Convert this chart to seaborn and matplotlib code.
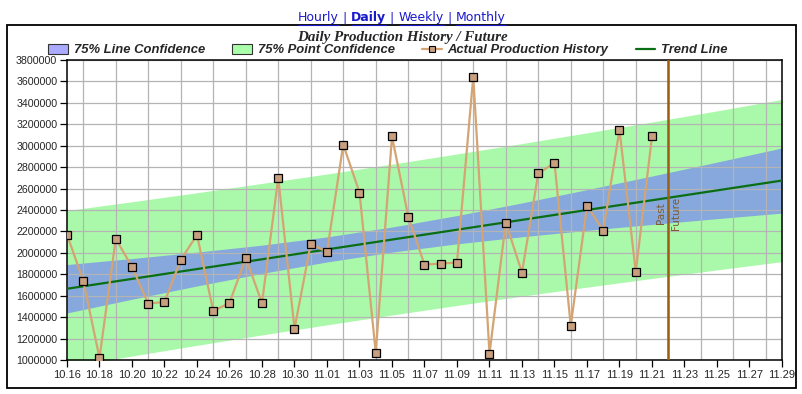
import numpy as np
import pandas as pd
import matplotlib
matplotlib.use("Agg")
import matplotlib.pyplot as plt
import matplotlib.transforms as mtransforms
from matplotlib.patches import Patch, Rectangle
from matplotlib.lines import Line2D
import seaborn as sns

# ---- data ----
dates = [d.strftime("%m.%d") for d in pd.date_range("2000-10-16", "2000-11-29")]
history = [2170000, 1740000, 1020000, 2130000, 1870000, 1526000, 1542000, 1934000,
           2168000, 1458000, 1532000, 1953000, 1532000, 2700000, 1292000, 2084000,
           2009000, 3011000, 2563000, 1068000, 3086000, 2339000, 1890000, 1900000,
           1909000, 3645000, 1059000, 2283000, 1816000, 2741000, 2840000, 1320000,
           2439000, 2208000, 3149000, 1822000, 3086000]

# band / trend samples every 4 days (day index 0, 4, ..., 44)
band_days = [0, 4, 8, 12, 16, 20, 24, 28, 32, 36, 40, 44]
trend = [1665000, 1757000, 1849000, 1940000, 2032000, 2124000,
         2216000, 2308000, 2400000, 2491000, 2583000, 2675000]
line_conf_hi = [1891000, 1947000, 2007000, 2072000, 2149000, 2241000,
                2348000, 2466000, 2590000, 2717000, 2847000, 2979000]
line_conf_lo = [1439000, 1567000, 1691000, 1808000, 1915000, 2007000,
                2084000, 2150000, 2210000, 2265000, 2319000, 2371000]
point_conf_hi = [2395000, 2477000, 2561000, 2648000, 2736000, 2828000,
                 2923000, 3020000, 3120000, 3221000, 3325000, 3432000]
point_conf_lo = [935000, 1037000, 1137000, 1234000, 1328000, 1420000,
                 1509000, 1596000, 1680000, 1761000, 1841000, 1918000]
split_day = "11.22"

hist_df = pd.DataFrame({"day": np.arange(len(history)), "value": history})
band_df = pd.DataFrame({"day": band_days, "trend": trend})

sns.set_theme(style="white")
plt.rcParams["font.family"] = ["Liberation Sans", "DejaVu Sans"]

fig = plt.figure(figsize=(8.03, 3.94), dpi=100)
ax = fig.add_axes([67 / 803, 34 / 394, 715 / 803, 300 / 394])

green_fill = "#aaf9aa"
blue_fill = "#86a8dc"
ax.fill_between(band_days, point_conf_lo, point_conf_hi, color=green_fill, lw=0, zorder=1)
ax.fill_between(band_days, line_conf_lo, line_conf_hi, color=blue_fill, lw=0, zorder=1.1)

sns.lineplot(data=band_df, x="day", y="trend", color="#0a6e14", lw=1.6, ax=ax, zorder=3)
sns.lineplot(data=hist_df, x="day", y="value", color="#d4a473", lw=1.6, marker="s",
             markersize=5.2, markerfacecolor="#c8a080", markeredgecolor="black",
             markeredgewidth=0.9, ax=ax, zorder=4)

split_x = dates.index(split_day)
ax.axvline(split_x, color="#9a5f10", lw=1.8, zorder=5)
trans = mtransforms.blended_transform_factory(ax.transData, ax.transAxes)
ax.text(split_x - 0.15, 0.49, "Past", rotation=90, ha="right", va="center",
        color="#7a5a30", fontsize=7.5, transform=trans, family="DejaVu Sans", zorder=6)
ax.text(split_x + 0.15, 0.49, "Future", rotation=90, ha="left", va="center",
        color="#7a5a30", fontsize=7.5, transform=trans, family="DejaVu Sans", zorder=6)

ax.set_xlim(0, len(dates) - 1)
ax.set_ylim(1000000, 3800000)
ax.set_xticks(np.arange(0, len(dates), 2))
ax.set_xticklabels(dates[::2], fontsize=8)
ax.set_xticks(np.arange(len(dates)), minor=True)
yt = np.arange(1000000, 3800001, 200000)
ax.set_yticks(yt)
ax.set_yticklabels([str(v) for v in yt], fontsize=7.7)
ax.tick_params(axis="both", which="major", length=5, width=0.9, color="black",
               direction="out", pad=2, bottom=True, left=True)
ax.tick_params(axis="x", which="minor", length=0)
ax.set_axisbelow("line")
ax.grid(True, which="major", axis="y", color="#b4b4b4", lw=0.9)
ax.grid(True, which="minor", axis="x", color="#b4b4b4", lw=0.9)
ax.set_xlabel("")
ax.set_ylabel("")
for sp in ax.spines.values():
    sp.set_color("black")
    sp.set_linewidth(1.1)
    sp.set_visible(True)

# outer frame
fig.patches.append(Rectangle((7 / 803, 6 / 394), 789 / 803, 363 / 394, transform=fig.transFigure,
                             fill=False, ec="black", lw=1.3))

fig.text(402 / 803, 1 - 37 / 394, "Daily Production History / Future", ha="center", va="center",
         family="Liberation Serif", fontweight="bold", fontstyle="italic", fontsize=10.8)

handles = [Patch(facecolor="#aaaaff", edgecolor="#333333", lw=0.8),
           Patch(facecolor="#aaffaa", edgecolor="#333333", lw=0.8),
           Line2D([], [], color="#d4a473", lw=1.6, marker="s", markersize=5,
                  markerfacecolor="#c8a080", markeredgecolor="black", markeredgewidth=0.8),
           Line2D([], [], color="#0a6e14", lw=1.6)]
labels = ["75% Line Confidence", "75% Point Confidence", "Actual Production History", "Trend Line"]
fig.legend(handles, labels, loc="center", bbox_to_anchor=(388 / 803, 1 - 50 / 394), ncol=4,
           frameon=False, handlelength=1.5, handleheight=0.8, handletextpad=0.45,
           columnspacing=2.1, borderaxespad=0,
           prop={"family": "Liberation Sans", "weight": "bold", "style": "italic", "size": 9.4})

# link bar with underlines
pieces = [("Hourly", "normal", True), (" | ", "normal", False), ("Daily", "bold", True),
          (" | ", "normal", False), ("Weekly", "normal", True), (" | ", "normal", False),
          ("Monthly", "normal", True)]
fig.canvas.draw()
renderer = fig.canvas.get_renderer()
link_y = 394 - 18
texts = []
for s, w, _ in pieces:
    t = fig.text(0, 0, s, fontsize=9, family="DejaVu Sans", fontweight=w, color="#1a1acc",
                 va="center", ha="left", transform=None)
    texts.append(t)
widths = [t.get_window_extent(renderer).width for t in texts]
x0 = 402 - sum(widths) / 2
for (s, w, ul), t, wd in zip(pieces, texts, widths):
    t.set_position((x0, link_y))
    if ul:
        fig.lines.append(Line2D([x0 / 803, (x0 + wd) / 803], [(link_y - 7) / 394] * 2,
                                transform=fig.transFigure, color="#1a1acc", lw=0.8))
    x0 += wd

fig.savefig("out.png", dpi=100)
